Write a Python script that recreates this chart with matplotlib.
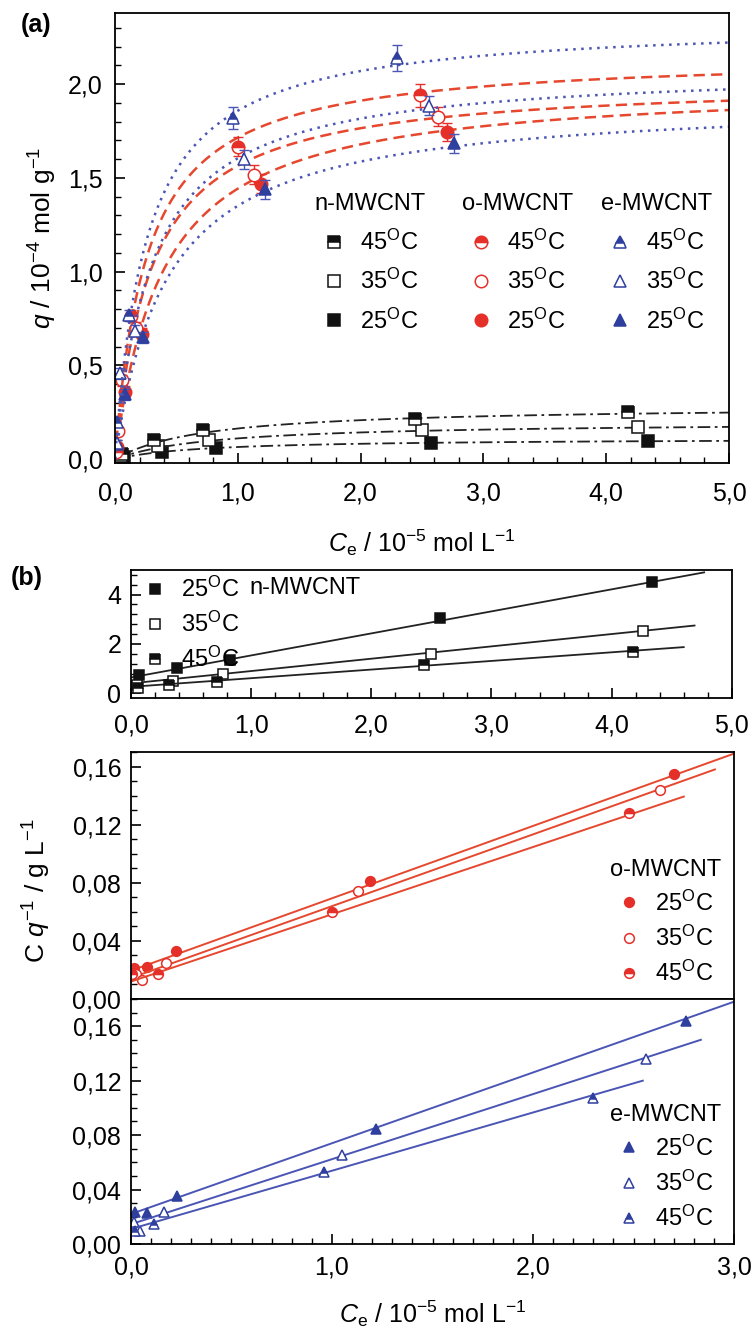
import numpy as np
import matplotlib
matplotlib.use("Agg")
import matplotlib.pyplot as plt
from matplotlib.legend import Legend
from matplotlib.ticker import MultipleLocator, FuncFormatter

plt.rcParams['font.family'] = ['Liberation Sans', 'DejaVu Sans']
plt.rcParams['mathtext.fontset'] = 'custom'
plt.rcParams['mathtext.rm'] = 'Liberation Sans'
plt.rcParams['mathtext.it'] = 'Liberation Sans:italic'
plt.rcParams['mathtext.bf'] = 'Liberation Sans:bold'

# temperatures, in the order 25, 35, 45 degC
temps = ['25', '35', '45']

# equilibrium data: Ce in 1e-5 mol/L, q in 1e-4 mol/g
n_ce = [[0.07, 0.385, 0.82, 2.57, 4.34],
        [0.05, 0.35, 0.765, 2.50, 4.26],
        [0.06, 0.32, 0.72, 2.44, 4.18]]
n_q = [[0.0095, 0.038, 0.060, 0.084, 0.0965],
       [0.0147, 0.070, 0.100, 0.156, 0.170],
       [0.029, 0.100, 0.158, 0.215, 0.250]]

o_ce = [[0.014, 0.079, 0.222, 1.19, 2.70],
        [0.026, 0.055, 0.174, 1.13, 2.63],
        [0.007, 0.134, 1.00, 2.48]]
o_q = [[0.065, 0.36, 0.67, 1.47, 1.745],
       [0.15, 0.42, 0.70, 1.517, 1.826],
       [0.04, 0.766, 1.667, 1.94]]
o_err = [[0.02, 0.03, 0.03, 0.05, 0.05],
         [0.02, 0.03, 0.03, 0.05, 0.05],
         [0.02, 0.03, 0.05, 0.06]]

e_ce = [[0.019, 0.079, 0.23, 1.22, 2.76],
        [0.014, 0.044, 0.163, 1.05, 2.56],
        [0.019, 0.115, 0.96, 2.30]]
e_q = [[0.08, 0.346, 0.65, 1.44, 1.685],
       [0.085, 0.458, 0.685, 1.60, 1.885],
       [0.198, 0.767, 1.82, 2.14]]
e_err = [[0.02, 0.03, 0.03, 0.05, 0.05],
         [0.02, 0.03, 0.03, 0.05, 0.05],
         [0.02, 0.03, 0.06, 0.07]]

# linear (Langmuir) fits of Ce/q vs Ce: intercept, slope, end of drawn line
n_icpt = [0.64, 0.40, 0.26]
n_slope = [0.893, 0.50, 0.35]
n_xend = [4.77, 4.69, 4.60]
o_icpt = [0.0195, 0.0145, 0.012]
o_slope = [0.0498, 0.0494, 0.0463]
o_xend = [3.0, 2.905, 2.75]
e_icpt = [0.022, 0.0145, 0.011]
e_slope = [0.052, 0.0478, 0.0428]
e_xend = [3.0, 2.835, 2.546]

red = '#e5302a'
red_line = '#e5482e'
blue = '#2f3f9e'
blue_line = '#4a55b4'
black = '#111111'

fills = ['full', 'none', 'top']


def comma(fmt):
    return FuncFormatter(lambda v, p: fmt.format(v).replace('.', ','))


def deg(t):
    return t + r'$^\mathregular{O}$C'


def style(color, marker, i, ms):
    kw = dict(marker=marker, ms=ms, color=color, mec=color, ls='none', mew=1.1)
    if fills[i] == 'full':
        kw['mfc'] = color
    elif fills[i] == 'none':
        kw['mfc'] = 'white'
    else:
        kw['mfc'] = color
        kw['fillstyle'] = 'top'
        kw['markerfacecoloralt'] = 'white'
    return kw


def ticks(a, xpad, ypad):
    a.tick_params(which='both', direction='in', labelsize=18)
    a.tick_params(axis='x', which='major', pad=xpad)
    a.tick_params(axis='y', which='major', pad=ypad)
    a.tick_params(which='major', length=7, width=1.2)
    a.tick_params(which='minor', length=4, width=1.0)
    for s in a.spines.values():
        s.set_linewidth(1.3)


fig = plt.figure(figsize=(7.51, 13.35), dpi=100)

# ---------------- panel (a) ----------------
ax = fig.add_axes([0.1531, 0.6532, 0.8176, 0.3371])
c = np.linspace(0.0, 5.0, 500)
curve_ls = {'n': (0, (7, 2.5, 1.5, 2.5)), 'o': (0, (4.5, 2.5)), 'e': (0, (1, 2.2))}

handles = {'n': [], 'o': [], 'e': []}
for i in range(3):
    ax.plot(c, 0.1 * c / (n_icpt[i] + n_slope[i] * c), color='#222222', lw=1.3, ls=curve_ls['n'])
    h, = ax.plot(n_ce[i], n_q[i], **style(black, 's', i, 8), label=deg(temps[i]))
    handles['n'].append(h)
for i in range(3):
    ax.plot(c, 0.1 * c / (o_icpt[i] + o_slope[i] * c), color=red_line, lw=1.8, ls=curve_ls['o'])
    ax.errorbar(o_ce[i], o_q[i], yerr=o_err[i], fmt='none', ecolor=red, elinewidth=1.0, capsize=3.5)
    h, = ax.plot(o_ce[i], o_q[i], **style(red, 'o', i, 9), label=deg(temps[i]))
    handles['o'].append(h)
for i in range(3):
    ax.plot(c, 0.1 * c / (e_icpt[i] + e_slope[i] * c), color=blue_line, lw=1.8, ls=curve_ls['e'])
    ax.errorbar(e_ce[i], e_q[i], yerr=e_err[i], fmt='none', ecolor=blue_line, elinewidth=1.0, capsize=3.5)
    h, = ax.plot(e_ce[i], e_q[i], **style(blue, '^', i, 9), label=deg(temps[i]))
    handles['e'].append(h)

ax.set_xlim(0, 5.0)
ax.set_ylim(-0.02, 2.38)
ax.xaxis.set_major_locator(MultipleLocator(1.0))
ax.xaxis.set_minor_locator(MultipleLocator(0.2))
ax.yaxis.set_major_locator(MultipleLocator(0.5))
ax.yaxis.set_minor_locator(MultipleLocator(0.1))
ax.xaxis.set_major_formatter(comma('{:.1f}'))
ax.yaxis.set_major_formatter(comma('{:.1f}'))
ticks(ax, 13, 9)
ax.set_xlabel(r'$C_\mathregular{e}$ / 10$^{-5}$ mol L$^{-1}$', fontsize=18, labelpad=16)
ax.set_ylabel(r'$q$ / 10$^{-4}$ mol g$^{-1}$', fontsize=19, labelpad=6)

leg_x = {'n': 0.415, 'o': 0.655, 'e': 0.882}
titles = {'n': 'n-MWCNT', 'o': 'o-MWCNT', 'e': 'e-MWCNT'}
for k in ['n', 'o', 'e']:
    hs = handles[k][::-1]
    lg = Legend(ax, hs, [h.get_label() for h in hs], title=titles[k], loc='upper center',
                bbox_to_anchor=(leg_x[k], 0.62), frameon=False, fontsize=17,
                title_fontsize=17, handlelength=1.0, handletextpad=0.6,
                labelspacing=0.6, borderaxespad=0)
    ax.add_artist(lg)

fig.text(0.048, 0.981, '(a)', fontsize=18, fontweight='bold', ha='center', va='center')
fig.text(0.036, 0.567, '(b)', fontsize=18, fontweight='bold', ha='center', va='center')

# ---------------- panel (b), n-MWCNT ----------------
axn = fig.add_axes([0.1744, 0.4772, 0.800, 0.0959])
hn = []
for i in range(3):
    x = np.array([0.0, n_xend[i]])
    axn.plot(x, n_icpt[i] + n_slope[i] * x, color='#222222', lw=1.3)
    ce = np.array(n_ce[i])
    h, = axn.plot(ce, 0.1 * ce / np.array(n_q[i]), **style(black, 's', i, 7), label=deg(temps[i]))
    hn.append(h)
axn.set_xlim(0, 5.0)
axn.set_ylim(-0.19, 5.0)
axn.xaxis.set_major_locator(MultipleLocator(1.0))
axn.xaxis.set_minor_locator(MultipleLocator(0.2))
axn.yaxis.set_major_locator(MultipleLocator(2))
axn.yaxis.set_minor_locator(MultipleLocator(0.4))
axn.xaxis.set_major_formatter(comma('{:.1f}'))
axn.yaxis.set_major_formatter(comma('{:.0f}'))
axn.legend(handles=hn, loc='upper left', bbox_to_anchor=(0.0, 1.04), frameon=False,
           fontsize=17, handlelength=1.0, handletextpad=0.6, labelspacing=0.42,
           borderaxespad=0.1)
axn.text(0.198, 0.86, 'n-MWCNT', transform=axn.transAxes, fontsize=17, va='center')
ticks(axn, 11, 7)

# ---------------- panel (b), o-MWCNT ----------------
axo = fig.add_axes([0.1744, 0.2517, 0.803, 0.185])
ho = []
for i in range(3):
    x = np.array([0.0, o_xend[i]])
    axo.plot(x, o_icpt[i] + o_slope[i] * x, color=red_line, lw=1.4)
    ce = np.array(o_ce[i])
    h, = axo.plot(ce, 0.1 * ce / np.array(o_q[i]), **style(red, 'o', i, 7), label=deg(temps[i]))
    ho.append(h)
axo.set_xlim(0, 3.0)
axo.set_ylim(0, 0.17)
axo.set_xticks([])
axo.yaxis.set_major_locator(MultipleLocator(0.04))
axo.yaxis.set_minor_locator(MultipleLocator(0.01))
axo.yaxis.set_major_formatter(comma('{:.2f}'))
axo.legend(handles=ho, title='o-MWCNT', loc='lower right', bbox_to_anchor=(1.0, 0.0),
           frameon=False, fontsize=17, title_fontsize=17, handlelength=1.0,
           handletextpad=0.6, labelspacing=0.42, borderaxespad=0.15)
axo.set_ylabel(r'C $q^{-1}$ / g L$^{-1}$', fontsize=19)
axo.yaxis.set_label_coords(-0.13, 0.44)
ticks(axo, 6, 7)

# ---------------- panel (b), e-MWCNT ----------------
axe = fig.add_axes([0.1744, 0.0682, 0.803, 0.1835])
he = []
for i in range(3):
    x = np.array([0.0, e_xend[i]])
    axe.plot(x, e_icpt[i] + e_slope[i] * x, color=blue_line, lw=1.4)
    ce = np.array(e_ce[i])
    h, = axe.plot(ce, 0.1 * ce / np.array(e_q[i]), **style(blue, '^', i, 7), label=deg(temps[i]))
    he.append(h)
axe.set_xlim(0, 3.0)
axe.set_ylim(0, 0.18)
axe.xaxis.set_major_locator(MultipleLocator(1.0))
axe.xaxis.set_minor_locator(MultipleLocator(0.1))
axe.yaxis.set_major_locator(MultipleLocator(0.04))
axe.yaxis.set_minor_locator(MultipleLocator(0.01))
axe.xaxis.set_major_formatter(comma('{:.1f}'))
axe.yaxis.set_major_formatter(comma('{:.2f}'))
axe.legend(handles=he, title='e-MWCNT', loc='lower right', bbox_to_anchor=(1.0, 0.0),
           frameon=False, fontsize=17, title_fontsize=17, handlelength=1.0,
           handletextpad=0.6, labelspacing=0.42, borderaxespad=0.15)
axe.set_xlabel(r'$C_\mathregular{e}$ / 10$^{-5}$ mol L$^{-1}$', fontsize=18, labelpad=14)
ticks(axe, 8, 7)

fig.savefig('out.png', dpi=100)
